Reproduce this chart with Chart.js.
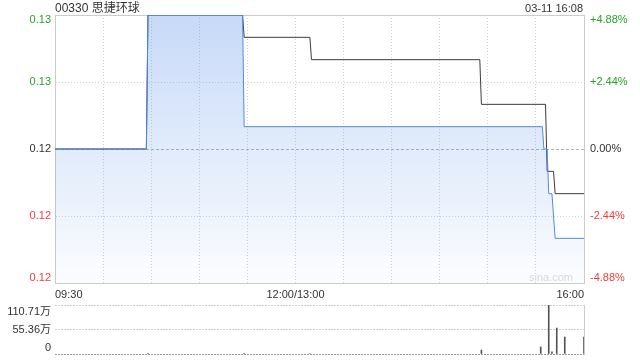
<!DOCTYPE html>
<html>
<head>
<meta charset="utf-8">
<script src="https://cdn.jsdelivr.net/npm/chart.js@4/dist/chart.umd.min.js"></script>
<style>
html, body { margin: 0; padding: 0; background: #fff; }
#wrap { position: relative; width: 640px; height: 360px; font-family: "Liberation Sans", Arial, "Noto Sans CJK SC", sans-serif; color: #333; }
#title { position: absolute; left: 55px; top: 1px; font-size: 12px; line-height: 14px; }
#stamp { position: absolute; right: 57px; top: 1px; font-size: 11px; line-height: 14px; }
#price { position: absolute; left: 0; top: 0; }
#vol { position: absolute; left: 0; top: 300px; }
</style>
</head>
<body>
<div id="wrap">
  <canvas id="price" width="640" height="300"></canvas>
  <canvas id="vol" width="640" height="60"></canvas>
  <div id="title">00330 思捷环球</div>
  <div id="stamp">03-11 16:08</div>
</div>
<script>
// minutes since 09:30 (lunch break removed), 330 = 16:00
const prevClose = 0.123;
const priceMinutes = [0, 57, 58, 117, 118, 304, 305, 307, 308, 310, 311, 312, 330];
const priceValues = [0.123, 0.123, 0.129, 0.129, 0.124, 0.124, 0.123, 0.123, 0.121, 0.121, 0.120, 0.119, 0.119];
const avgMinutes = [0, 57, 58, 117, 118, 159, 160, 265, 266, 306, 307, 311, 312, 330];
const avgValues = [0.123, 0.123, 0.129, 0.129, 0.128, 0.128, 0.127, 0.127, 0.125, 0.125, 0.122, 0.122, 0.121, 0.121];
const volMinutes = [58, 118, 159, 266, 303, 308, 310, 313, 318, 330];
const volValues = [1.5, 1.5, 1.2, 9, 15.8, 110.71, 5, 58.7, 38.4, 38.4]; // 万

const priceTicks = [0.117, 0.120, 0.123, 0.126, 0.129];
const priceTickLabels = ['0.12', '0.12', '0.12', '0.13', '0.13'];
const pctTickLabels = ['-4.88%', '-2.44%', '0.00%', '+2.44%', '+4.88%'];
const timeTicks = [0, 30, 60, 90, 120, 150, 180, 210, 240, 270, 300, 330];
const timeTickLabels = ['09:30', '', '', '', '', '12:00/13:00', '', '', '', '', '', '16:00'];
const volTicks = [0, 55.36, 110.71];
const volTickLabels = ['0', '55.36万', '110.71万'];

const GREEN = '#27a327';
const RED = '#f03c3c';
const FONT = '11px "Liberation Sans", Arial, "Noto Sans CJK SC", sans-serif';

const pts = (xs, ys) => xs.map((x, i) => ({ x: x, y: ys[i] }));

const priceLabels = {
  id: 'priceLabels',
  afterDraw(chart) {
    const { ctx, chartArea: a } = chart;
    const ys = chart.scales.y;
    ctx.save();
    ctx.font = FONT;
    ctx.textBaseline = 'middle';
    priceTicks.forEach((v, i) => {
      const py = Math.min(Math.max(ys.getPixelForValue(v), a.top + 5), a.bottom - 5);
      ctx.fillStyle = v > prevClose ? GREEN : (v < prevClose ? RED : '#333');
      ctx.textAlign = 'right';
      ctx.fillText(priceTickLabels[i], a.left - 4, py);
      ctx.textAlign = 'left';
      ctx.fillText(pctTickLabels[i], a.right + 6, py);
    });
    ctx.fillStyle = '#d9d9d9';
    ctx.textAlign = 'right';
    ctx.fillText('sina.com', a.right - 11, a.bottom - 5);
    ctx.restore();
  }
};

new Chart(document.getElementById('price'), {
  type: 'line',
  data: {
    datasets: [{
      data: pts(priceMinutes, priceValues),
      borderColor: '#4f8be2',
      borderWidth: 1,
      pointRadius: 0,
      fill: 'start',
      backgroundColor: (c) => {
        const a = c.chart.chartArea;
        if (!a) return 'rgba(74,134,232,0.15)';
        const g = c.chart.ctx.createLinearGradient(0, a.top, 0, a.bottom);
        g.addColorStop(0, 'rgba(74,134,232,0.31)');
        g.addColorStop(1, 'rgba(74,134,232,0.02)');
        return g;
      }
    }, {
      data: pts(avgMinutes, avgValues),
      borderColor: '#3c3c3c',
      borderWidth: 1,
      pointRadius: 0,
      fill: false
    }]
  },
  options: {
    responsive: false,
    animation: false,
    layout: { padding: { top: 15, left: 0, right: 0, bottom: 0 } },
    plugins: { legend: { display: false }, tooltip: { enabled: false } },
    scales: {
      x: {
        type: 'linear', min: 0, max: 330,
        afterBuildTicks: (s) => { s.ticks = timeTicks.map(v => ({ value: v })); },
        afterFit: (s) => { s.height = 17; },
        ticks: {
          autoSkip: false, maxRotation: 0, align: 'inner', padding: 5,
          color: '#333', font: { size: 11, family: '"Liberation Sans", Arial, sans-serif' },
          callback: (v, i) => timeTickLabels[i]
        },
        grid: {
          drawTicks: false,
          color: (c) => (c.index === 0 || c.index === timeTicks.length - 1) ? 'rgba(0,0,0,0)' : '#d2d2d2'
        },
        border: { color: '#cccccc', dash: [1, 2] }
      },
      y: {
        position: 'left', min: 0.117, max: 0.129,
        afterBuildTicks: (s) => { s.ticks = priceTicks.map(v => ({ value: v })); },
        afterFit: (s) => { s.width = 55; },
        ticks: { display: false },
        grid: {
          drawTicks: false,
          color: (c) => c.index === 0 ? 'rgba(0,0,0,0)' : (c.index === 2 ? '#b4b4b4' : (c.index === 4 ? '#cccccc' : '#d2d2d2'))
        },
        border: {
          color: '#cccccc',
          dash: (c) => c.index === 2 ? [3, 2] : (c.index === 4 ? [] : [1, 2])
        }
      },
      y2: {
        position: 'right', min: 0.117, max: 0.129,
        afterFit: (s) => { s.width = 56; },
        ticks: { display: false },
        grid: { display: false, drawTicks: false },
        border: { color: '#cccccc' }
      }
    }
  },
  plugins: [priceLabels]
});

const volLabels = {
  id: 'volLabels',
  afterDraw(chart) {
    const { ctx, chartArea: a } = chart;
    const ys = chart.scales.y;
    ctx.save();
    ctx.font = FONT;
    ctx.textBaseline = 'middle';
    ctx.textAlign = 'right';
    ctx.fillStyle = '#333';
    volTicks.forEach((v, i) => {
      const py = Math.min(Math.max(ys.getPixelForValue(v), a.top + 7), a.bottom - 6);
      ctx.fillText(volTickLabels[i], a.left - 4, py);
    });
    ctx.restore();
  }
};

new Chart(document.getElementById('vol'), {
  type: 'bar',
  data: {
    datasets: [{
      data: pts(volMinutes, volValues),
      backgroundColor: '#555555',
      barThickness: 1
    }]
  },
  options: {
    responsive: false,
    animation: false,
    layout: { padding: { top: 5, left: 0, right: 0, bottom: 6 } },
    plugins: { legend: { display: false }, tooltip: { enabled: false } },
    scales: {
      x: { type: 'linear', min: 0, max: 330, offset: false, grid: { offset: false }, display: false },
      y: {
        position: 'left', min: 0, max: 110.71,
        afterBuildTicks: (s) => { s.ticks = volTicks.map(v => ({ value: v })); },
        afterFit: (s) => { s.width = 55; },
        ticks: { display: false },
        grid: { drawTicks: false, color: (c) => c.index === 0 ? '#999999' : '#cccccc' },
        border: { display: false, dash: [2, 1] }
      },
      yr: {
        position: 'right', min: 0, max: 110.71,
        afterFit: (s) => { s.width = 56; },
        ticks: { display: false },
        grid: { display: false, drawTicks: false },
        border: { color: '#cccccc' }
      }
    }
  },
  plugins: [volLabels]
});
</script>
</body>
</html>
